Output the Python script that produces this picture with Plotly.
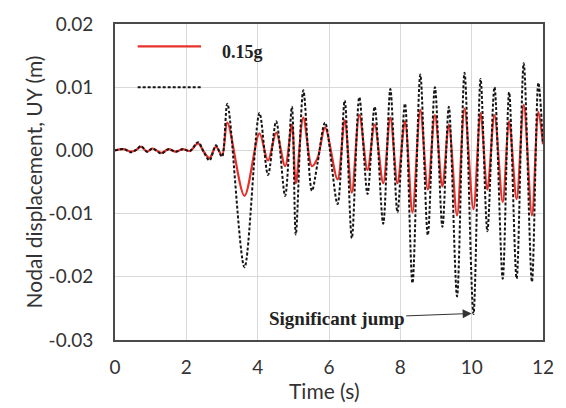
import plotly.graph_objects as go

# Time (s) of turning points
time_s = [0, 0.25, 0.45, 0.6, 0.73, 0.9, 1.05, 1.3, 1.5, 1.7, 1.9, 2.1, 2.33, 2.5, 2.65, 2.83, 3.0,
          3.15, 3.63, 4.05, 4.29, 4.52, 4.77, 4.96, 5.07, 5.28, 5.52, 5.68, 5.89, 6.24, 6.44, 6.64,
          6.85, 7.08, 7.28, 7.52, 7.72, 7.92, 8.13, 8.34, 8.56, 8.77, 8.97, 9.18, 9.36, 9.59, 9.8,
          10.05, 10.25, 10.44, 10.64, 10.87, 11.05, 11.26, 11.46, 11.69, 11.87, 12.0]

# Dashed black series (no legend label)
uy_black = [0, 0.0002, -0.0003, 0.0001, 0.0007, -0.0002, 0.0003, -0.0005, 0.0002, -0.0002, 0.0002, -0.0001,
            0.0013, -0.0004, -0.0016, 0.0008, -0.0010,
            0.0074, -0.0185, 0.0059, -0.0039, 0.0046, -0.0072, 0.0069, -0.0133, 0.0095, -0.0064, -0.0020,
            0.0044, -0.0085, 0.0079, -0.0139, 0.0084, -0.0069, 0.0069, -0.0116, 0.0097, -0.0098, 0.0074,
            -0.0210, 0.0120, -0.0134, 0.0100, -0.0121, 0.0069, -0.0231, 0.0123, -0.0259, 0.0113, -0.0128,
            0.0100, -0.0203, 0.0092, -0.0203, 0.0138, -0.0208, 0.0107, 0.0010]

# Red series: 0.15g
uy_red = [0, 0.0002, -0.0002, 0.0001, 0.0006, -0.0002, 0.0003, -0.0004, 0.0002, -0.0002, 0.0002, -0.0001,
          0.0011, -0.0003, -0.0012, 0.0006, -0.0008,
          0.0044, -0.0072, 0.0027, -0.0016, 0.0028, -0.0025, 0.0041, -0.0052, 0.0052, -0.0025, -0.0012,
          0.0036, -0.0046, 0.0048, -0.0067, 0.0056, -0.0031, 0.0041, -0.0052, 0.0052, -0.0052, 0.0046,
          -0.0098, 0.0064, -0.0062, 0.0056, -0.0057, 0.0041, -0.0103, 0.0066, -0.0093, 0.0059, -0.0062,
          0.0056, -0.0082, 0.0046, -0.0077, 0.0072, -0.0103, 0.0061, 0.0010]

x_ticks = [0, 2, 4, 6, 8, 10, 12]
y_ticks = [-0.03, -0.02, -0.01, 0.0, 0.01, 0.02]
y_ticktext = ["-0.03", "-0.02", "-0.01", "0.00", "0.01", "0.02"]

jump_time = 10.0
jump_value = -0.0258

fig = go.Figure()
fig.add_trace(go.Scatter(x=time_s, y=uy_red, mode="lines", name="0.15g",
                         line=dict(color="#e8302a", width=2.2, shape="spline", smoothing=0.9),
                         showlegend=False))
fig.add_trace(go.Scatter(x=time_s, y=uy_black, mode="lines", name="",
                         line=dict(color="#151515", width=2, dash="3px,2px", shape="spline", smoothing=0.9),
                         showlegend=False))

sans = "Lato, Open Sans, sans-serif"
tick_font = dict(family=sans, size=19, color="#333")
fig.update_layout(
    width=566, height=408,
    margin=dict(l=115, r=14, t=15, b=68),
    paper_bgcolor="white", plot_bgcolor="white",
    xaxis=dict(range=[0, 12], tickvals=x_ticks, showgrid=True, gridcolor="#d9d9d9", gridwidth=1,
               showline=True, mirror=True, linecolor="#4a4a4a", linewidth=2, ticks="",
               tickfont=tick_font, zeroline=False, ticklabelstandoff=9),
    yaxis=dict(range=[-0.03, 0.02], tickvals=y_ticks, ticktext=y_ticktext, showgrid=True,
               gridcolor="#d9d9d9", gridwidth=1, showline=True, mirror=True, linecolor="#4a4a4a",
               linewidth=2, ticks="", tickfont=tick_font, zeroline=False, ticklabelstandoff=16,
               title=dict(text="Nodal displacement, UY (m)",
                          font=dict(family=sans, size=21, color="#333"),
                          standoff=0)),
)

# x-axis title placed as text just under the tick labels
fig.add_annotation(xref="paper", yref="paper", x=0.49, y=-0.16, xanchor="center", yanchor="middle",
                   text="Time (s)", showarrow=False, font=dict(family=sans, size=21, color="#333"))

# Legend drawn as samples inside the plot area
fig.add_shape(type="line", xref="paper", yref="paper", x0=0.053, x1=0.201, y0=0.929, y1=0.929,
              line=dict(color="#e8302a", width=2.2))
fig.add_shape(type="line", xref="paper", yref="paper", x0=0.053, x1=0.201, y0=0.80, y1=0.80,
              line=dict(color="#151515", width=2, dash="3px,2px"))
fig.add_annotation(xref="paper", yref="paper", x=0.245, y=0.912, xanchor="left", yanchor="middle",
                   text="<b>0.15g</b>", showarrow=False,
                   font=dict(family="Liberation Serif, serif", size=18, color="#222"))

fig.add_annotation(x=jump_time, y=jump_value, text="<b>Significant jump</b>",
                   showarrow=True, ax=-135, ay=5, arrowhead=2, arrowsize=1.8, arrowwidth=1,
                   arrowcolor="#333", font=dict(family="Liberation Serif, serif", size=19, color="#222"))

fig.write_html("out.html")
